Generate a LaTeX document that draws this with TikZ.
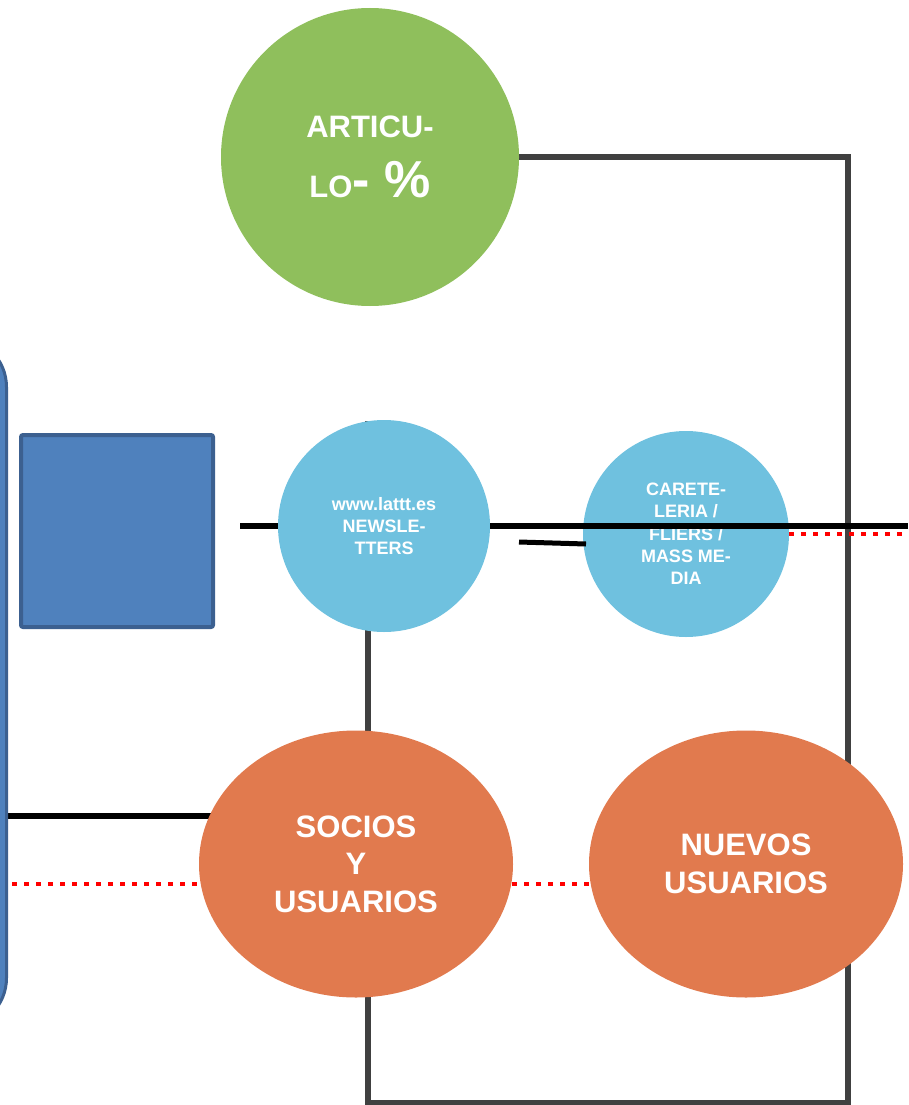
\documentclass[tikz,border=0pt]{standalone}
\usepackage{fontspec}
\setmainfont{Liberation Sans}
\usetikzlibrary{shapes.geometric,backgrounds}
\definecolor{grn}{HTML}{8FBF5C}
\definecolor{lblue}{HTML}{6FC1DF}
\definecolor{org}{HTML}{E17A4E}
\definecolor{blu}{HTML}{4F81BD}
\definecolor{bluedge}{HTML}{3C6090}
\definecolor{frm}{HTML}{404040}
\tikzset{
  circ/.style={circle,inner sep=0pt,text=white,align=center,font=\bfseries},
  ell/.style={ellipse,inner sep=0pt,minimum width=314,minimum height=267,fill=org,text=white,align=center,
    font=\fontsize{31}{37.5}\selectfont\bfseries},
  frameline/.style={draw=frm,line width=5.5pt},
  blkline/.style={draw=black,line width=5.5pt},
  reddot/.style={draw=red,line width=4.5pt,dash pattern=on 4.5pt off 7.5pt},
  bluebox/.style={fill=blu,draw=bluedge,line width=4pt,rounded corners=2pt,minimum size=192,inner sep=0pt}
}
\begin{document}
\begin{tikzpicture}[x=1pt,y=-1pt]
\useasboundingbox (0,0) rectangle (908,1105);
\begin{scope}
\clip (0,0) rectangle (908,1105);
\path[fill=blu,draw=bluedge,line width=3pt,rounded corners=50pt] (-200,337) rectangle (6.5,1028);
\end{scope}
\node[bluebox] (sq) at (117,531) {};

\node[circ,fill=grn,minimum size=298,font=\fontsize{31}{60}\selectfont\bfseries] (art) at (370,157)
  {ARTICU-\\LO{\fontsize{52}{60}\selectfont- \%}};
\node[circ,fill=lblue,minimum size=212,font=\fontsize{18}{22}\selectfont\bfseries] (nl) at (384,526)
  {www.lattt.es\\NEWSLE-\\TTERS};
\node[circ,fill=lblue,minimum size=206,font=\fontsize{18}{22.3}\selectfont\bfseries] (car) at (686,534)
  {CARETE-\\LERIA /\\FLIERS /\\MASS ME-\\DIA};
\node[ell] (soc) at (356,864) {SOCIOS\\Y\\USUARIOS};
\node[ell] (nue) at (746,864) {NUEVOS\\USUARIOS};

\coordinate (ftop) at (368,421);
\coordinate (fcorner) at (848,1103);
\coordinate (b0) at (240,526);
\coordinate (b1) at (8,816);
\coordinate (r0) at (12,884);
\coordinate (redge) at (908,526);
\coordinate (rdedge) at (908,534);
\coordinate (s0) at (519,542);
\coordinate (s1) at (586,544);

\begin{scope}[on background layer]
\draw[frameline] (art.east) -| (fcorner) -| (ftop);
\draw[blkline] (b0) -- (nl.center);
\draw[blkline] (b1) -- (b1 -| soc.center);
\draw[reddot] (r0) -- (r0 -| soc.center);
\draw[reddot] ([yshift=-20pt]soc.center) -- ([yshift=-20pt]nue.center);
\end{scope}

\draw[blkline] (nl.east) -- (redge);
\draw[blkline,line width=5pt] (s0) -- (s1);
\draw[reddot] (car.east) -- (rdedge);
\end{tikzpicture}
\end{document}
